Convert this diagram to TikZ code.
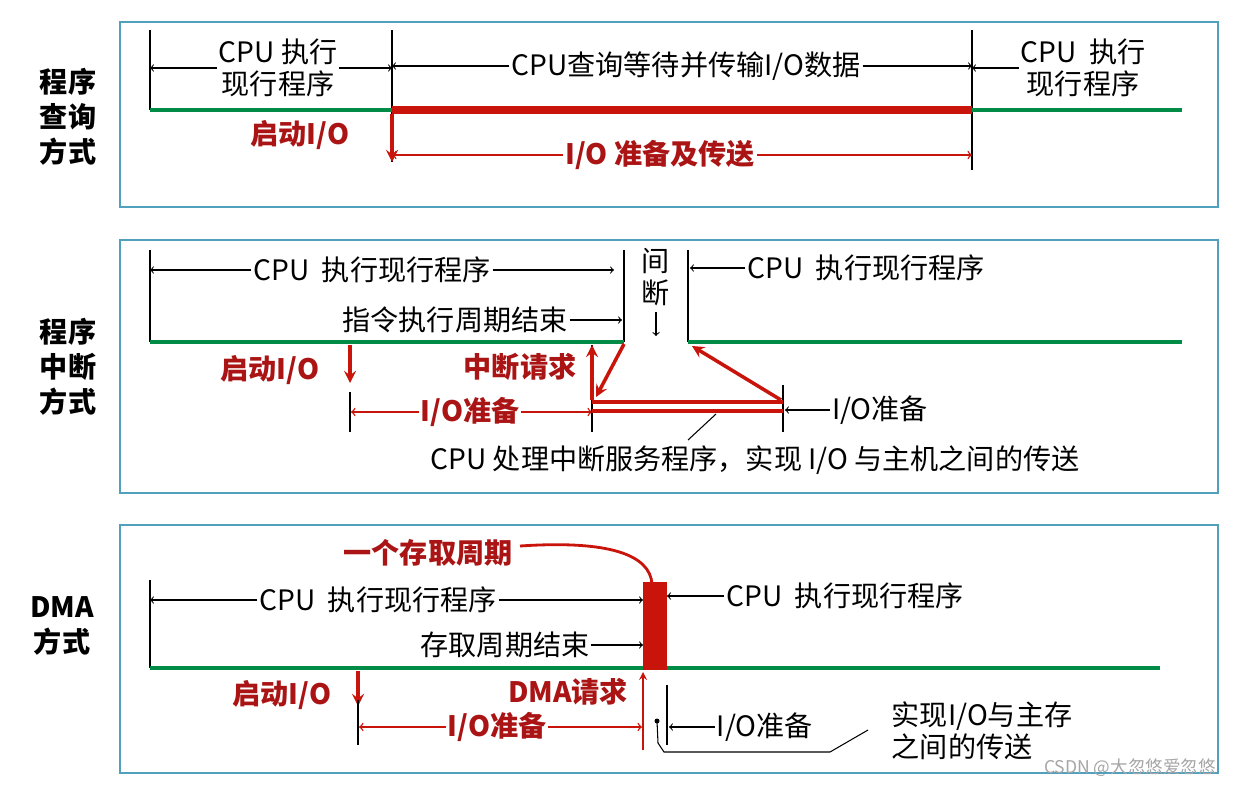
\documentclass[tikz,border=0pt]{standalone}
\usepackage{fontspec}
\setmainfont{Noto Sans CJK SC}
\usetikzlibrary{positioning,arrows}
\definecolor{panelLine}{RGB}{80,160,190}
\definecolor{busGreen}{RGB}{0,140,70}
\definecolor{ioRed}{RGB}{200,20,10}
\definecolor{ioText}{RGB}{170,20,20}
\tikzset{
  panel/.style={draw=panelLine, line width=0.8pt},
  lbl/.style={inner sep=1pt, font=\fontsize{16}{18}\selectfont},
  redLbl/.style={lbl, text=ioText, font=\fontsize{16}{18}\selectfont\bfseries},
  span/.style={-to, line width=0.6pt},
  redSpan/.style={-to, line width=0.8pt, draw=ioRed},
  tick/.style={line width=0.9pt},
  busLine/.style={draw=busGreen, line width=2.2pt},
  ioBar/.style={draw=ioRed, line width=4pt},
  redArrow/.style={-stealth, draw=ioRed, line width=2pt}
}
\begin{document}
\begin{tikzpicture}[x=0.02cm, y=-0.02cm]
      \useasboundingbox[fill=white] (0,0) rectangle (1243,787);

      % panel frames
      \draw[panel] (120,22) rectangle (1218,207);
      \draw[panel] (120,240) rectangle (1218,493);
      \draw[panel] (120,525) rectangle (1218,773);

      % ---- program query
      \node[lbl, align=center, font=\fontsize{16}{20}\selectfont\bfseries] (pollName) at (68,117) {程序\\查询\\方式};
      \draw[tick] (150,30) -- (150,110);
      \draw[tick] (392,30) -- (392,162);
      \draw[tick] (972,30) -- (972,170);
      \draw[busLine] (150,110) -- (392,110);
      \draw[ioBar] (392,110) -- (972,110);
      \draw[busLine] (972,110) -- (1182,110);
      \node[lbl, align=center] (pollRunA) at (278,68) {CPU 执行\\现行程序};
      \draw[span] (pollRunA.west |- 0,68) -- (150,68);
      \draw[span] (pollRunA.east |- 0,68) -- (392,68);
      \node[lbl] (pollWait) at (686,66) {CPU查询等待并传输I/O数据};
      \draw[span] (pollWait.west) -- (392,66);
      \draw[span] (pollWait.east) -- (972,66);
      \node[lbl, align=center] (pollRunB) at (1083,68) {CPU\ \ 执行\\现行程序};
      \draw[span] (pollRunB.west |- 0,68) -- (972,68);
      \node[redLbl] (pollStart) at (300,135) {启动I/O};
      \draw[redArrow] (392,114) -- (392,162);
      \node[redLbl] (pollXfer) at (660,155) {I/O 准备及传送};
      \draw[redSpan] (pollXfer.west) -- (392,155);
      \draw[redSpan] (pollXfer.east) -- (972,155);

      % ---- interrupt
      \node[lbl, align=center, font=\fontsize{16}{20}\selectfont\bfseries] (irqName) at (68,367) {程序\\中断\\方式};
      \draw[tick] (150,250) -- (150,342);
      \draw[tick] (624,250) -- (624,342);
      \draw[tick] (688,250) -- (688,342);
      \draw[busLine] (150,342) -- (624,342);
      \draw[busLine] (688,342) -- (1182,342);
      \node[lbl] (irqRunA) at (372,270) {CPU\ \ 执行现行程序};
      \draw[span] (irqRunA.west) -- (150,270);
      \draw[span] (irqRunA.east) -- (614,270);
      \node[lbl] (irqEnd) at (455,320) {指令执行周期结束};
      \draw[span] (irqEnd.east) -- (622,320);
      \node[lbl, align=center] (irqGap) at (656,277) {间\\断};
      \draw[span] (656,312) -- (656,336);
      \node[lbl] (irqRunB) at (866,268) {CPU\ \ 执行现行程序};
      \draw[span] (irqRunB.west) -- (690,268);
      \node[redLbl] (irqStart) at (270,370) {启动I/O};
      \draw[redArrow] (350,345) -- (350,383);
      \draw[tick] (350,392) -- (350,432);
      \draw[tick] (592,345) -- (592,432);
      \draw[tick] (783,385) -- (783,432);
      \node[redLbl] (irqPrep) at (470,412) {I/O准备};
      \draw[redSpan] (irqPrep.west) -- (351,412);
      \draw[redSpan] (irqPrep.east) -- (592,412);
      \draw[draw=ioRed, line width=2.5pt] (592,402) -- (783,402);
      \draw[draw=ioRed, line width=2.5pt] (592,411) -- (783,411);
      \draw[redArrow] (592,400) -- (592,345);
      \draw[redArrow] (624,344) -- (596,397);
      \draw[redArrow] (781,400) -- (692,346);
      \node[redLbl] (irqReq) at (520,367) {中断请求};
      \node[lbl] (irqPrepB) at (880,410) {I/O准备};
      \draw[span] (irqPrepB.west) -- (785,410);
      \node[lbl] (irqServe) at (755,460) {CPU 处理中断服务程序，实现 I/O 与主机之间的传送};
      \draw[line width=0.6pt] (716,414) -- (688,440);

      % ---- DMA
      \node[lbl, align=center, font=\fontsize{16}{20}\selectfont\bfseries] (dmaName) at (62,626) {DMA\\方式};
      \draw[tick] (150,580) -- (150,668);
      \draw[busLine] (150,668) -- (643,668);
      \fill[ioRed] (643,582) rectangle (667,670);
      \draw[busLine] (667,668) -- (1160,668);
      \node[lbl] (dmaRunA) at (378,600) {CPU\ \ 执行现行程序};
      \draw[span] (dmaRunA.west) -- (150,600);
      \draw[span] (dmaRunA.east) -- (643,600);
      \node[lbl] (dmaEnd) at (505,645) {存取周期结束};
      \draw[span] (dmaEnd.east) -- (643,645);
      \node[lbl] (dmaRunB) at (845,596) {CPU\ \ 执行现行程序};
      \draw[span] (dmaRunB.west) -- (667,596);
      \node[redLbl] (dmaCycle) at (428,553) {一个存取周期};
      \draw[draw=ioRed, line width=1.6pt] (520,546) .. controls (610,540) and (650,555) .. (652,584);
      \node[redLbl] (dmaStart) at (282,695) {启动I/O};
      \draw[redArrow] (358,671) -- (358,706);
      \draw[tick] (358,700) -- (358,745);
      \node[redLbl] (dmaPrep) at (497,727) {I/O准备};
      \draw[redSpan] (dmaPrep.west) -- (359,727);
      \draw[redSpan] (dmaPrep.east) -- (642,727);
      \draw[-stealth, draw=ioRed, line width=1pt] (643,750) -- (643,672);
      \node[redLbl] (dmaReq) at (568,692) {DMA请求};
      \draw[tick] (667,685) -- (667,745);
      \node[lbl] (dmaPrepB) at (765,727) {I/O准备};
      \draw[span] (dmaPrepB.west) -- (669,727);
      \fill (657,721) circle (2.5);
      \draw[line width=0.6pt] (657,721) -- (658,743) -- (664,752) -- (830,752) -- (868,730);
      \node[lbl, align=left] (dmaMove) at (982,731) {实现I/O与主存\\之间的传送};
      \node[text=gray!70, font=\fontsize{10}{12}\selectfont] (mark) at (1130,768) {CSDN @大忽悠爱忽悠};
\end{tikzpicture}
\end{document}
